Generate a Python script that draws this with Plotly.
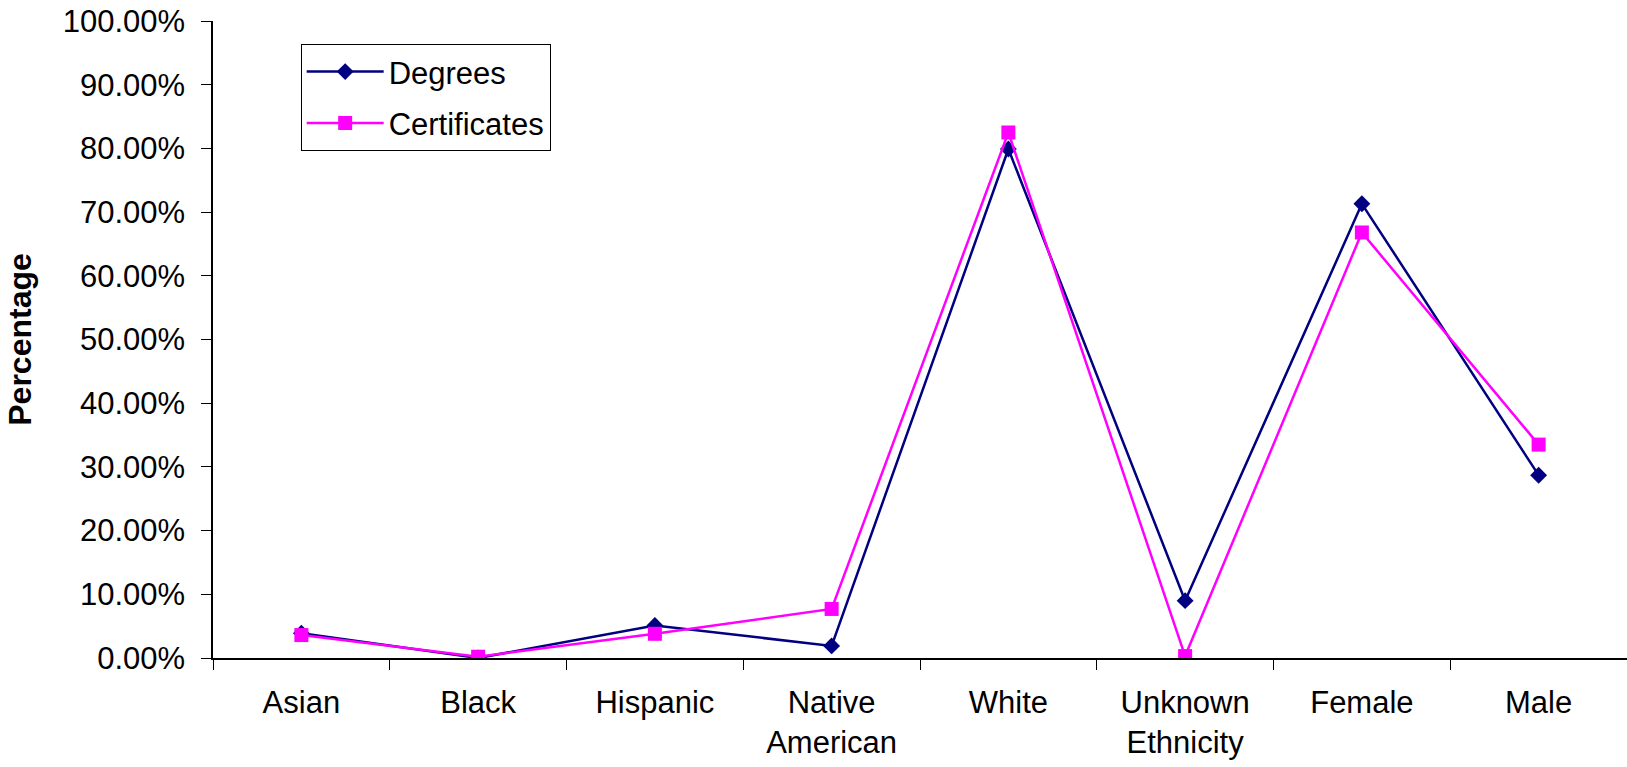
import plotly.graph_objects as go

categories = ["Asian", "Black", "Hispanic", "Native<br>American", "White",
              "Unknown<br>Ethnicity", "Female", "Male"]
degrees = [0.039, 0.000, 0.051, 0.019, 0.799, 0.090, 0.713, 0.287]
certificates = [0.036, 0.002, 0.038, 0.077, 0.825, 0.003, 0.668, 0.335]

FONT = "Liberation Sans, Arial, sans-serif"

fig = go.Figure()
fig.add_trace(go.Scatter(
    x=categories, y=degrees, name="Degrees", mode="lines+markers",
    legendgroup="deg",
    line=dict(color="#000080", width=2.5),
    marker=dict(symbol="diamond", size=13, color="#000080"),
))
fig.add_trace(go.Scatter(
    x=categories, y=certificates, name="Certificates", mode="lines+markers",
    legendgroup="cert",
    line=dict(color="#FF00FF", width=2.5),
    marker=dict(symbol="square", size=14, color="#FF00FF"),
))

fig.update_layout(
    width=1627, height=767,
    margin=dict(l=213, r=0, t=21, b=109),
    paper_bgcolor="white", plot_bgcolor="white",
    font=dict(family=FONT, size=31, color="black"),
    showlegend=True,
    legend=dict(
        x=0.062, y=0.964, xanchor="left", yanchor="top",
        bordercolor="black", borderwidth=1, bgcolor="white",
        font=dict(size=31), itemwidth=77,
        tracegroupgap=8,
    ),
    xaxis=dict(
        type="category", range=[-0.5, 7.5],
        showline=True, linecolor="black", linewidth=1.5,
        ticks="outside", ticklen=10, tickcolor="black", tickwidth=1,
        tickson="boundaries", showgrid=False, zeroline=False,
        tickfont=dict(size=31), ticklabelstandoff=16,
    ),
    yaxis=dict(
        range=[0, 1], dtick=0.1, tickformat=".2%",
        showline=True, linecolor="black", linewidth=1.5,
        ticks="outside", ticklen=10, tickcolor="black", tickwidth=1,
        showgrid=False, zeroline=False,
        tickfont=dict(size=31), ticklabelstandoff=10,
        title=dict(text="<b>Percentage</b>", font=dict(size=32), standoff=21),
    ),
)

fig.write_html("out.html")
